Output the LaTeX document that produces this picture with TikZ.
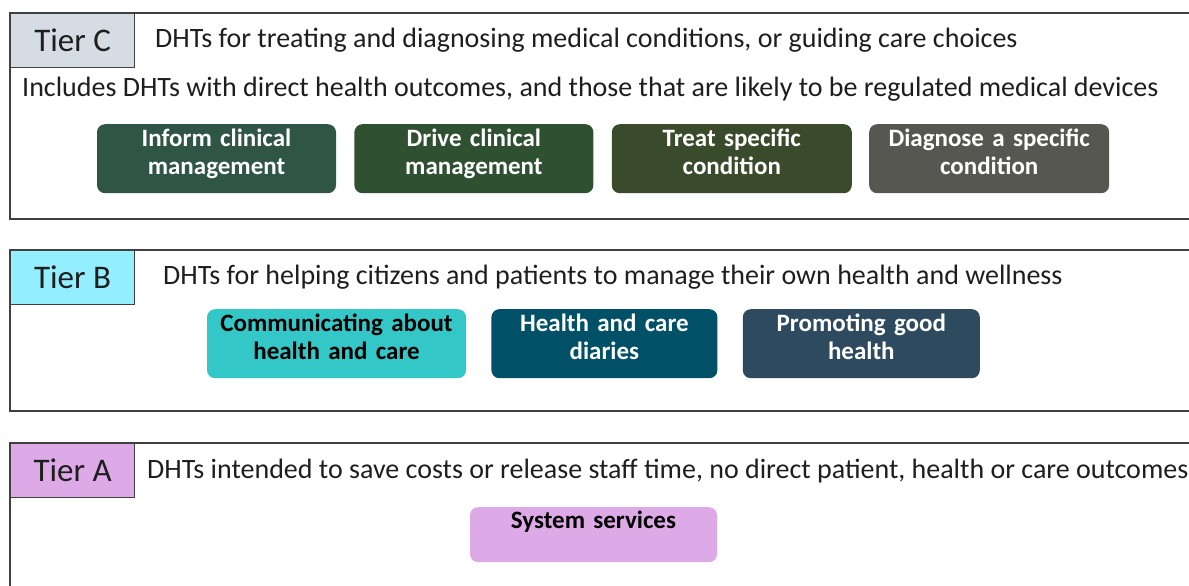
\documentclass[tikz,border=0pt]{standalone}
\usepackage{fontspec}
\setmainfont{Carlito}
\usetikzlibrary{positioning}

\definecolor{framegray}{HTML}{404040}
\definecolor{inkgray}{HTML}{1E1E1E}
\definecolor{tierCfill}{HTML}{D6DCE4}
\definecolor{tierBfill}{HTML}{93EFFF}
\definecolor{tierAfill}{HTML}{DDA9E6}
\definecolor{informfill}{HTML}{2E5546}
\definecolor{drivefill}{HTML}{2F5131}
\definecolor{treatfill}{HTML}{3A4B2B}
\definecolor{diagnosefill}{HTML}{575752}
\definecolor{commfill}{HTML}{33C7C7}
\definecolor{diaryfill}{HTML}{005067}
\definecolor{promofill}{HTML}{2D4A5E}

\begin{document}
\begin{tikzpicture} [
  x = 1pt,
  y = -1pt,
  frame/.style = {draw = framegray, line width = 1.2pt},
  tier/.style = {
    frame,
    minimum width = 124pt,
    minimum height = 54pt,
    inner sep = 0pt,
    anchor = north west,
    text = inkgray,
    font = \fontsize{33}{36}\selectfont,
  },
  heading/.style = {
    anchor = west,
    inner sep = 0pt,
    text = inkgray,
    font = \fontsize{28}{32}\selectfont,
  },
  pill/.style = {
    rounded corners = 8pt,
    inner xsep = 0pt,
    inner ysep = 4pt,
    align = center,
    text height = 18pt,
    text depth = 43pt,
    text = white,
    font = \bfseries\fontsize{25}{28}\selectfont,
  },
  pillone/.style = {
    pill,
    text height = 17pt,
    text depth = 30pt,
  },
]
\useasboundingbox (0, 0) rectangle (1189, 586);
\clip (0, 0) rectangle (1189, 586);

% Tier C
\draw [frame] (10, 13) rectangle (1200, 219);
\node [tier, fill = tierCfill] (tierC) at (10, 13) {Tier C};
\node [heading] (descC) at (155, 40) {DHTs for treating and diagnosing medical conditions, or guiding care choices};
\node [heading] (scopeC) at (22, 89) {Includes DHTs with direct health outcomes, and those that are likely to be regulated medical devices};
\node [pill, fill = informfill, text width = 239pt, anchor = north] (inform) at (216.5, 124) {Inform clinical\\management};
\node [pill, fill = drivefill, text width = 239pt, right = 18pt of inform] (drive) {Drive clinical\\management};
\node [pill, fill = treatfill, text width = 240pt, right = 18pt of drive] (treat) {Treat specific\\condition};
\node [pill, fill = diagnosefill, text width = 240pt, right = 17pt of treat] (diagnose) {Diagnose a specific\\condition};

% Tier B
\draw [frame] (10, 250) rectangle (1200, 411);
\node [tier, fill = tierBfill] (tierB) at (10, 250) {Tier B};
\node [heading] (descB) at (163, 277) {DHTs for helping citizens and patients to manage their own health and wellness};
\node [pill, fill = commfill, text = black, text width = 259pt, anchor = north] (comm) at (336.5, 309) {Communicating about\\health and care};
\node [pill, fill = diaryfill, text width = 226pt, right = 25pt of comm] (diary) {Health and care\\diaries};
\node [pill, fill = promofill, text width = 237pt, right = 25pt of diary] (promo) {Promoting good\\health};

% Tier A
\draw [frame] (10, 443) rectangle (1200, 600);
\node [tier, fill = tierAfill] (tierA) at (10, 443) {Tier A};
\node [heading] (descA) at (147, 471) {DHTs intended to save costs or release staff time, no direct patient, health or care outcomes};
\node [pillone, fill = tierAfill, text = black, text width = 247pt, anchor = north] (system) at (593.5, 507) {System services};
\end{tikzpicture}
\end{document}
